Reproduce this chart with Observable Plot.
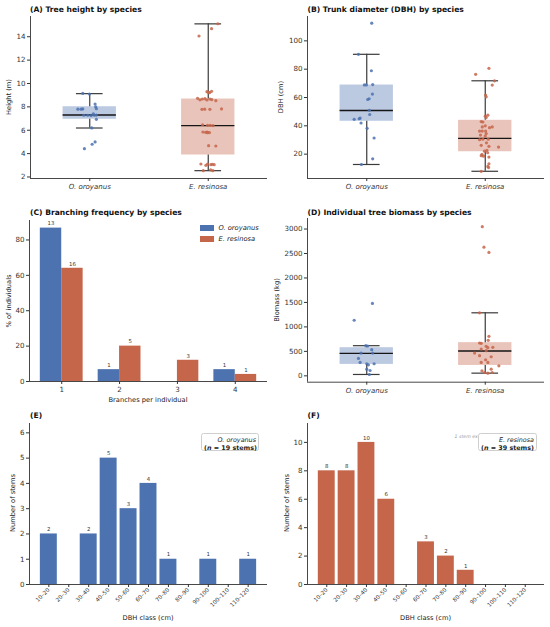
<!DOCTYPE html>
<html><head><meta charset="utf-8">
<script src="https://cdn.jsdelivr.net/npm/d3@7"></script>
<script src="https://cdn.jsdelivr.net/npm/@observablehq/plot@0.6"></script>
<style>
body{margin:0;background:#fff;}
#root{position:relative;width:550px;height:627px;font-family:"DejaVu Sans",sans-serif;overflow:hidden;background:#fff;}
#root svg{position:absolute;overflow:visible;}
.t{position:absolute;white-space:nowrap;line-height:1;}
.leg{position:absolute;background:#fff;border:0.8px solid #cfcfcf;border-radius:2.5px;font-size:6.4px;color:#222;text-align:right;box-sizing:border-box;padding:2px 2px;line-height:1.3;white-space:nowrap;}
</style>
</head><body><div id="root"></div>
<script>
// ---------- DATA ----------
const species = ["O. oroyanus", "E. resinosa"];

// (A) heights (m) per stem, with horizontal jitter
const heightO = [9.15,9.1,8.24,8.0,7.84,7.8,7.8,7.82,7.28,7.28,7.25,7.28,7.3,6.93,6.2,5.0,4.8,4.42,7.4];
const heightOJit = [-0.059,-0.003,0.045,0.05,0.056,-0.1,-0.073,-0.059,-0.05,-0.017,0.011,0.039,0.056,0.056,0.017,0.045,0.02,-0.045,0.03];
const heightE = [15.11,14.69,14.06,9.3,9.21,9.33,8.73,8.67,8.7,8.59,8.67,8.53,7.79,7.79,7.82,6.47,6.42,6.42,5.85,5.82,5.79,4.68,4.65,3.11,3.11,3.05,3.05,2.54,2.54,9.25,8.62,8.6,6.4,5.8,3.0,3.08,2.6,7.8,5.85];
const heightEJit = [0.081,0.028,-0.078,-0.011,0.011,0.028,-0.09,-0.05,-0.028,-0.011,0.014,0.064,-0.053,0.014,0.112,-0.048,-0.006,0.017,-0.045,-0.022,-0.006,0.003,0.064,-0.062,-0.006,0.022,0.05,-0.042,0.039,0.0,0.03,-0.07,0.04,0.01,-0.02,0.035,0.02,-0.03,-0.01];
// box stats [O, E]
const heightQ1 = [6.94, 3.88], heightMed = [7.3, 6.39], heightQ3 = [8.01, 8.67], heightLo = [6.19, 2.54], heightHi = [9.13, 15.1];

// (B) DBH (cm)
const dbhO = [112.5,90.5,78.9,68.9,68.9,69.1,62.4,58.6,59.1,51,48,44.6,45.5,42,38.2,31.4,16.7,12.7,45];
const dbhOJit = [0.042,-0.07,0.039,-0.02,-0.003,0.05,0.048,0.008,0.02,0.022,0.025,-0.106,-0.056,-0.048,0.003,0.062,0.05,-0.045,-0.064];
const dbhE = [80.6,76.4,71.8,68.8,61.7,60.5,47.5,46.8,45.8,42.7,43,39.2,38.7,39.2,36.3,36.3,36.3,32.8,34.5,30.2,30.6,30.6,25,26.2,25.5,22.1,22.6,18.9,18.6,17.9,19.8,13.2,11.3,7.9,28,33.5,21,40,10.5];
const dbhEJit = [0.031,-0.081,0.078,0.059,0.003,0.008,0.022,0,0.008,-0.02,-0.034,0.059,0.036,-0.025,-0.048,-0.025,0.003,0,0.008,-0.048,-0.02,0.025,0.112,-0.034,0.031,-0.006,0.014,-0.034,-0.014,0.031,-0.028,0.031,0.022,-0.034,0.01,-0.04,0.02,0.0,0.028];
const dbhQ1 = [43.2, 21.7], dbhMed = [50.8, 31.1], dbhQ3 = [68.8, 43.9], dbhLo = [12.7, 7.9], dbhHi = [90.5, 71.8];

// (C) branching
const branches = [1, 2, 3, 4];
const branchPctO = [86.7, 6.7, 0, 6.7];
const branchPctE = [64, 20, 12, 4];
const branchCountO = [13, 1, 0, 1];
const branchCountE = [16, 5, 3, 1];

// (D) biomass (kg) per individual
const massO = [1479,1136,616,610,534,466,466,356,274,247,247,226,137,109,27];
const massOJit = [0.048,-0.106,-0.008,0.008,0.042,0.05,-0.048,-0.07,-0.056,0,0.062,0.014,0,0.028,0.022];
const massE = [3048,2630,2521,1288,808,726,671,664,603,582,575,548,466,514,411,329,390,205,274,274,137,103,68,55,68];
const massEJit = [-0.025,-0.011,0.031,-0.048,0.031,0.025,-0.048,-0.034,0.008,0.064,0.022,-0.034,-0.09,0.008,-0.048,0.003,0.05,0.115,-0.034,0.022,0.05,-0.028,-0.006,0.022,0.059];
const massQ1 = [233, 212], massMed = [459, 507], massQ3 = [575, 678], massLo = [28, 55], massHi = [616, 1288];

// (E)/(F) DBH classes
const dbhClasses = ["10–20","20–30","30–40","40–50","50–60","60–70","70–80","80–90","90–100","100–110","110–120"];
const stemsO = [2,0,2,5,3,4,1,0,1,0,1];
const stemsE = [8,8,10,6,0,3,2,1,0,0,0];

// ---------- STYLE ----------
const BLUE = "#4C72B0", ORANGE = "#C5654A";
const spc = [BLUE, ORANGE];
const AX = "#333";
const TICKFS = 7.1;
const root = document.getElementById("root");
const fmt = d => String(d);

function txt(s, x, y, o = {}) {
  const d = document.createElement("div");
  d.className = "t";
  d.innerHTML = s;
  d.style.left = x + "px"; d.style.top = y + "px";
  d.style.fontSize = (o.size || 6.8) + "px";
  d.style.fontWeight = o.weight || "normal";
  d.style.fontStyle = o.style || "normal";
  d.style.color = o.color || "#222";
  const ax = o.anchor === "middle" ? "-50%" : o.anchor === "end" ? "-100%" : "0";
  d.style.transform = `translate(${ax},-50%)`;
  if (o.rotate) { d.style.transform = `translate(-50%,-50%) rotate(${o.rotate}deg)`; }
  root.appendChild(d);
  return d;
}
function place(svg, left, top) { svg.style.left = left + "px"; svg.style.top = top + "px"; root.appendChild(svg); }

const baseStyle = {fontFamily: "DejaVu Sans", fontSize: TICKFS + "px", color: AX, background: "transparent", overflow: "visible"};

// ---------- BOX/STRIP PANEL ----------
function boxPanel({vO, jO, vE, jE, q1, med, q3, lo, hi, yDomain, yTicks, left, top, w, h, mL, mR, mT, mB}) {
  const stats = [0, 1].map(i => ({pos: i, q1: q1[i], med: med[i], q3: q3[i], lo: lo[i], hi: hi[i]}));
  const pts = vO.map((v, i) => ({pos: 0, off: jO[i], v})).concat(vE.map((v, i) => ({pos: 1, off: jE[i], v})));
  const svg = Plot.plot({
    width: w, height: h, marginLeft: mL, marginRight: mR, marginTop: mT, marginBottom: mB,
    style: baseStyle,
    color: {type: "identity"},
    x: {domain: [-0.5, 1.5]},
    y: {domain: yDomain},
    marks: [
      Plot.rect(stats, {x1: d => d.pos - 0.225, x2: d => d.pos + 0.225, y1: "q1", y2: "q3", fill: d => spc[d.pos], fillOpacity: 0.38}),
      Plot.ruleX(stats, {x: "pos", y1: "lo", y2: "q1", stroke: "#3a3a3a", strokeWidth: 1.2}),
      Plot.ruleX(stats, {x: "pos", y1: "q3", y2: "hi", stroke: "#3a3a3a", strokeWidth: 1.2}),
      Plot.ruleY(stats, {y: "lo", x1: d => d.pos - 0.1125, x2: d => d.pos + 0.1125, stroke: "#3a3a3a", strokeWidth: 1.2}),
      Plot.ruleY(stats, {y: "hi", x1: d => d.pos - 0.1125, x2: d => d.pos + 0.1125, stroke: "#3a3a3a", strokeWidth: 1.2}),
      Plot.ruleY(stats, {y: "med", x1: d => d.pos - 0.225, x2: d => d.pos + 0.225, stroke: "#151515", strokeWidth: 1.4}),
      Plot.dot(pts, {x: d => d.pos + d.off, y: "v", r: 1.6, fill: d => spc[d.pos], fillOpacity: 0.85}),
      Plot.ruleX([-0.5], {stroke: AX, strokeWidth: 0.9}),
      Plot.ruleY([yDomain[0]], {stroke: AX, strokeWidth: 0.9}),
      Plot.axisY({ticks: yTicks, tickFormat: fmt, tickSize: 3, tickPadding: 2, label: null, fontSize: TICKFS}),
      Plot.axisX({ticks: [0, 1], tickFormat: i => species[i], tickSize: 3, tickPadding: 2.5, label: null, fontStyle: "italic", fontSize: 7})
    ]
  });
  place(svg, left, top);
}

// (A)
boxPanel({vO: heightO, jO: heightOJit, vE: heightE, jE: heightEJit, q1: heightQ1, med: heightMed, q3: heightQ3, lo: heightLo, hi: heightHi,
  yDomain: [1.87, 15.73], yTicks: [2,4,6,8,10,12,14], left: 0, top: 0, w: 275, h: 200, mL: 30, mR: 8, mT: 16, mB: 22});
txt("(A) Tree height by species", 30, 9.5, {size: 7.6, weight: "bold", color: "#111"});
txt("Height (m)", 8.5, 97, {rotate: -90, size: 6.7});

// (B)
boxPanel({vO: dbhO, jO: dbhOJit, vE: dbhE, jE: dbhEJit, q1: dbhQ1, med: dbhMed, q3: dbhQ3, lo: dbhLo, hi: dbhHi,
  yDomain: [2.8, 117.2], yTicks: [20,40,60,80,100], left: 275, top: 0, w: 275, h: 200, mL: 32, mR: 6, mT: 16, mB: 22});
txt("(B) Trunk diameter (DBH) by species", 307.5, 9.5, {size: 7.6, weight: "bold", color: "#111"});
txt("DBH (cm)", 280.5, 97, {rotate: -90, size: 6.7});

// (D)
boxPanel({vO: massO, jO: massOJit, vE: massE, jE: massEJit, q1: massQ1, med: massMed, q3: massQ3, lo: massLo, hi: massHi,
  yDomain: [-130, 3215], yTicks: [0,500,1000,1500,2000,2500,3000], left: 275, top: 200, w: 275, h: 205, mL: 32, mR: 6, mT: 18, mB: 23.3});
txt("(D) Individual tree biomass by species", 307.5, 212.7, {size: 7.6, weight: "bold", color: "#111"});
txt("Biomass (kg)", 276.5, 300, {rotate: -90, size: 6.7});

// (C) branching
{
  const bw = 0.37;
  const rows = branches.map((b, i) => ({b, sp: 0, pct: branchPctO[i], n: branchCountO[i]}))
    .concat(branches.map((b, i) => ({b, sp: 1, pct: branchPctE[i], n: branchCountE[i]})));
  const x1 = d => d.sp === 0 ? d.b - bw : d.b;
  const x2 = d => d.sp === 0 ? d.b : d.b + bw;
  const svg = Plot.plot({
    width: 275, height: 205, marginLeft: 29, marginRight: 8, marginTop: 20, marginBottom: 24,
    style: baseStyle, color: {type: "identity"},
    x: {domain: [0.443, 4.557]},
    y: {domain: [0, 91]},
    marks: [
      Plot.rect(rows.filter(d => d.pct > 0), {x1, x2, y1: d => 0, y2: "pct", fill: d => spc[d.sp]}),
      Plot.text(rows.filter(d => d.n > 0), {x: d => (x1(d) + x2(d)) / 2, y: "pct", text: d => String(d.n), dy: -4.5, fontSize: 5.4, fill: "#333"}),
      Plot.ruleX([0.443], {stroke: AX, strokeWidth: 0.9}),
      Plot.ruleY([0], {stroke: AX, strokeWidth: 0.9}),
      Plot.axisY({ticks: [0,20,40,60,80], tickFormat: fmt, tickSize: 3, tickPadding: 2, label: null, fontSize: TICKFS}),
      Plot.axisX({ticks: branches, tickFormat: fmt, tickSize: 3, tickPadding: 2, label: null, fontSize: TICKFS})
    ]
  });
  place(svg, 0, 200);
  txt("(C) Branching frequency by species", 30, 212.7, {size: 7.6, weight: "bold", color: "#111"});
  txt("% of individuals", 8.5, 301, {rotate: -90, size: 6.7});
  txt("Branches per individual", 148, 399.5, {anchor: "middle", size: 6.7});
  // legend
  [[species[0], BLUE, 228.3], [species[1], ORANGE, 239]].forEach(([s, c, y]) => {
    const p = document.createElement("div");
    p.style.cssText = `position:absolute;left:199.5px;top:${y - 3.2}px;width:14px;height:6.4px;background:${c};`;
    root.appendChild(p);
    txt(s, 218.5, y, {size: 6.7, style: "italic"});
  });
}

// (E)/(F) histograms
function histPanel({counts, color, yDomain, yTicks, left, mL, mR}) {
  const rows = counts.map((n, i) => ({i, n}));
  const svg = Plot.plot({
    width: 275, height: 222, marginLeft: mL, marginRight: mR, marginTop: 18, marginBottom: 43,
    style: baseStyle,
    x: {domain: [-0.97, 10.97]},
    y: {domain: yDomain},
    marks: [
      Plot.rect(rows.filter(d => d.n > 0), {x1: d => d.i - 0.425, x2: d => d.i + 0.425, y1: d => 0, y2: "n", fill: color}),
      Plot.text(rows.filter(d => d.n > 0), {x: "i", y: "n", text: d => String(d.n), dy: -4.5, fontSize: 5.4, fill: "#333"}),
      Plot.ruleX([-0.97], {stroke: AX, strokeWidth: 0.9}),
      Plot.ruleY([0], {stroke: AX, strokeWidth: 0.9}),
      Plot.axisY({ticks: yTicks, tickFormat: fmt, tickSize: 3, tickPadding: 2, label: null, fontSize: TICKFS}),
      Plot.axisX({ticks: d3.range(dbhClasses.length), tickFormat: i => dbhClasses[i], tickSize: 3, tickPadding: 1.5, tickRotate: -45, fontSize: 5.6, label: null})
    ]
  });
  place(svg, left, 405);
}
histPanel({counts: stemsO, color: BLUE, yDomain: [0, 6.37], yTicks: [0,1,2,3,4,5,6], left: 0, mL: 29, mR: 8});
txt("(E)", 30, 416, {size: 7.6, weight: "bold", color: "#111"});
txt("Number of stems", 12.5, 503, {rotate: -90, size: 6.7});
txt("DBH class (cm)", 148, 618, {anchor: "middle", size: 6.7});

histPanel({counts: stemsE, color: ORANGE, yDomain: [0, 11.33], yTicks: [0,2,4,6,8,10], left: 275, mL: 32, mR: 6});
txt("(F)", 307.5, 416, {size: 7.6, weight: "bold", color: "#111"});
txt("Number of stems", 287, 503, {rotate: -90, size: 6.7});
txt("DBH class (cm)", 425.5, 618, {anchor: "middle", size: 6.7});
// visible part of the note that the legend box hides in the figure
txt("1 stem ex", 454.5, 436.5, {size: 4.7, style: "italic", color: "#999"});

function legBox(x1, x2, sp, n) {
  const d = document.createElement("div");
  d.className = "leg";
  d.style.left = x1 + "px"; d.style.top = "432.5px"; d.style.width = (x2 - x1) + "px"; d.style.height = "18.5px";
  d.innerHTML = `<i>${sp}</i><br><b>(<i>n</i> = ${n} stems)</b>`;
  root.appendChild(d);
}
legBox(201, 259, species[0], 19);
legBox(478, 537, species[1], 39);
</script></body></html>
